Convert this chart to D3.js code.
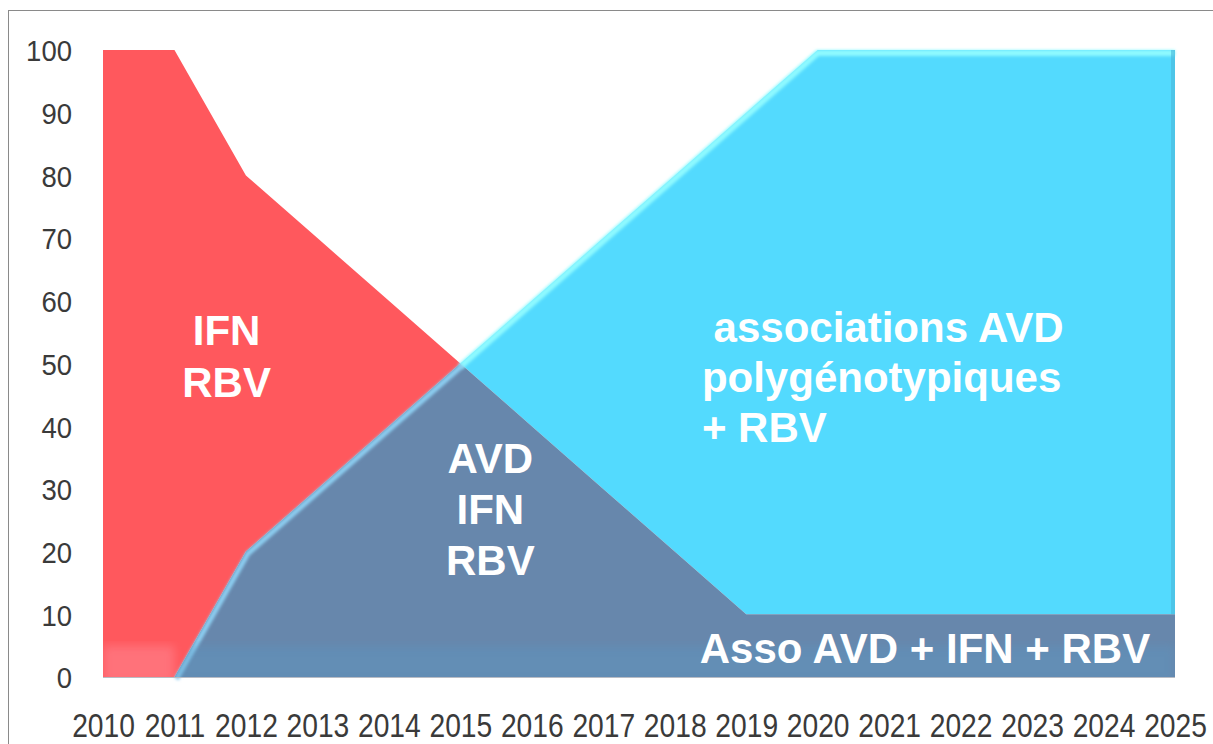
<!DOCTYPE html>
<html lang="fr">
  <head>
    <meta charset="UTF-8">
    <title>Traitements VHC 2010-2025</title>
    <script src="https://d3js.org/d3.v7.min.js"></script>
    <style>
      body { margin: 0; background: #fff; }
      svg { display: block; }
      .tick-label { font-family: "Liberation Sans", Arial, sans-serif; fill: #3a3a3a; }
      .area-label { font-family: "Liberation Sans", Arial, sans-serif; font-weight: bold; fill: #fff; font-size: 42px; }
    </style>
  </head>
  <body>
    <script>
      const w = 1213;
      const h = 744;

      const years = [2010, 2011, 2012, 2013, 2014, 2015, 2016, 2017, 2018, 2019, 2020, 2021, 2022, 2023, 2024, 2025];
      // stacked series, bottom to top (percent)
      const avdIfnRbv = [0, 0, 20, 30, 40, 50, 40, 30, 20, 10, 10, 10, 10, 10, 10, 10];
      const ifnRbv    = [100, 100, 60, 40, 20, 0, 0, 0, 0, 0, 0, 0, 0, 0, 0, 0];
      const assocAvd  = [0, 0, 0, 0, 0, 0, 20, 40, 60, 80, 90, 90, 90, 90, 90, 90];
      const yTicks = [0, 10, 20, 30, 40, 50, 60, 70, 80, 90, 100];

      const keys = ["avd", "ifn", "assoc"];
      const colors = { avd: "#6787ac", ifn: "#ff585d", assoc: "#53dafe" };

      const table = years.map((y, i) => ({ year: y, avd: avdIfnRbv[i], ifn: ifnRbv[i], assoc: assocAvd[i] }));
      const series = d3.stack().keys(keys)(table);

      const svg = d3.select("body").append("svg")
                    .attr("width", w)
                    .attr("height", h);

      // frame
      svg.append("rect")
         .attr("x", 8.5).attr("y", 10.5)
         .attr("width", w + 20).attr("height", h + 20)
         .attr("fill", "none")
         .attr("stroke", "#8a8a8a");

      const xScale = d3.scaleLinear().domain([2010, 2025]).range([103, 1175]);
      const yScale = d3.scaleLinear().domain([0, 100]).range([677, 50]);

      const defs = svg.append("defs");
      defs.append("filter").attr("id", "soft")
          .append("feGaussianBlur").attr("stdDeviation", 1.6);
      defs.append("filter").attr("id", "softer")
          .append("feGaussianBlur").attr("stdDeviation", 5);

      const area = d3.area()
                     .x(d => xScale(d.data.year))
                     .y0(d => yScale(d[0]))
                     .y1(d => yScale(d[1]));

      const avdS = series.find(s => s.key === "avd");
      const assocS = series.find(s => s.key === "assoc");
      const ifnS = series.find(s => s.key === "ifn");

      defs.append("clipPath").attr("id", "clip-avd")
          .append("path").datum(avdS).attr("d", area);
      defs.append("clipPath").attr("id", "clip-ifn")
          .append("path").datum(ifnS).attr("d", area);

      // back to front: red, cyan, then grey-blue
      const order = ["ifn", "assoc", "avd"];
      order.forEach(k => {
        const s = series.find(s => s.key === k);
        svg.append("path")
           .datum(s)
           .attr("d", area)
           .attr("fill", colors[k]);
      });

      // bevel-like highlights
      const topLine = d3.line()
                        .x(d => xScale(d.data.year))
                        .y(d => yScale(d[1]));

      svg.append("path")
         .datum(assocS.filter(d => d.data.year >= 2015))
         .attr("d", topLine)
         .attr("fill", "none")
         .attr("stroke", "#8ffaff")
         .attr("stroke-width", 6)
         .attr("filter", "url(#soft)")
         .attr("transform", "translate(0,3)");

      svg.append("path")
         .datum(avdS.filter(d => d.data.year >= 2011 && d.data.year <= 2015))
         .attr("d", topLine)
         .attr("fill", "none")
         .attr("stroke", "#8ccdf0")
         .attr("stroke-width", 5)
         .attr("filter", "url(#soft)")
         .attr("transform", "translate(2,2)");

      // lighter strip along the floor, kept inside each area
      svg.append("g").attr("clip-path", "url(#clip-avd)")
         .append("rect")
         .attr("x", xScale(2010)).attr("y", yScale(5))
         .attr("width", xScale(2025) - xScale(2010))
         .attr("height", yScale(0) - yScale(5) + 6)
         .attr("fill", "#5c9ac6")
         .attr("opacity", 0.35)
         .attr("filter", "url(#softer)");
      svg.append("g").attr("clip-path", "url(#clip-ifn)")
         .append("rect")
         .attr("x", xScale(2010)).attr("y", yScale(5))
         .attr("width", xScale(2011) - xScale(2010))
         .attr("height", yScale(0) - yScale(5) + 6)
         .attr("fill", "#ff8c98")
         .attr("opacity", 0.5)
         .attr("filter", "url(#softer)");

      // right side edge of the cyan block
      svg.append("rect")
         .attr("x", xScale(2025) - 4).attr("y", yScale(100))
         .attr("width", 4).attr("height", yScale(10) - yScale(100))
         .attr("fill", "#4ab8d8")
         .attr("opacity", 0.6);

      // floor line
      svg.append("line")
         .attr("x1", xScale(2010)).attr("x2", xScale(2025))
         .attr("y1", yScale(0) + 0.5).attr("y2", yScale(0) + 0.5)
         .attr("stroke", "#b8bcc4");

      // axes (labels squeezed horizontally to mimic a narrow face)
      const yAxis = d3.axisLeft(yScale).tickValues(yTicks).tickSize(0).tickPadding(0);
      const gy = svg.append("g")
                    .attr("transform", "translate(72,0)")
                    .call(yAxis);
      gy.select(".domain").remove();
      gy.selectAll("text")
        .attr("class", "tick-label")
        .attr("font-size", 30)
        .attr("dy", "0.36em")
        .attr("transform", "scale(0.917,1)");

      const xAxis = d3.axisBottom(xScale).tickValues(years).tickFormat(d3.format("d")).tickSize(0).tickPadding(0);
      const gx = svg.append("g")
                    .attr("transform", "translate(0,737)")
                    .call(xAxis);
      gx.select(".domain").remove();
      gx.selectAll("text")
        .attr("class", "tick-label")
        .attr("font-size", 34)
        .attr("dy", 0)
        .attr("y", 0)
        .attr("transform", "scale(0.83,1)");

      // area labels
      const labels = [
        { lines: ["IFN", "RBV"], x: 2011.73, y: 53, anchor: "middle", step: 52 },
        { lines: ["AVD", "IFN", "RBV"], x: 2015.42, y: 32.5, anchor: "middle", step: 51 },
        { lines: ["\u00a0associations AVD", "polygénotypiques", "+ RBV"], x: 2018.38, y: 53.5, anchor: "start", step: 50 },
        { lines: ["Asso AVD + IFN + RBV"], x: 2018.35, y: 2.2, anchor: "start", step: 0 }
      ];

      labels.forEach(l => {
        const t = svg.append("text")
                     .attr("class", "area-label")
                     .attr("text-anchor", l.anchor);
        l.lines.forEach((line, i) => {
          t.append("tspan")
           .attr("x", xScale(l.x))
           .attr("y", yScale(l.y) + i * l.step)
           .text(line);
        });
      });
    </script>
  </body>
</html>
